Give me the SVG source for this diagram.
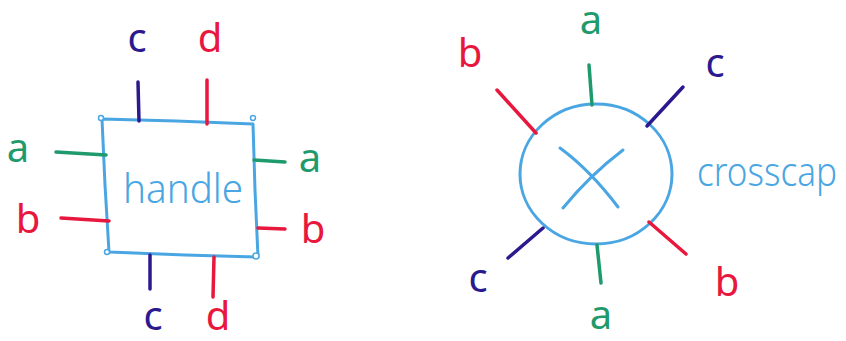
<svg xmlns="http://www.w3.org/2000/svg" width="846" height="341" viewBox="0 0 846 341">
<style>
.bg{fill:#ffffff}
.outline{fill:none;stroke:#4aa6e2;stroke-width:3;stroke-linecap:round;stroke-linejoin:round}
.corner{fill:#ffffff;stroke:#4aa6e2;stroke-width:1.5}
.s{fill:none;stroke-width:3.5;stroke-linecap:round}
.g{stroke:#1f9a6c}.r{stroke:#e8173d}.v{stroke:#2b1a8e}
.lbl{font-family:"Noto Sans","Liberation Sans",sans-serif;font-size:40px;text-anchor:middle}
.tg{fill:#1f9a6c}.tr{fill:#e8173d}.tv{fill:#2b1a8e}
.name{font-family:"Noto Sans","Liberation Sans",sans-serif;font-size:40px;fill:#4aa6e2;font-weight:300}
</style>
<rect class="bg" x="0" y="0" width="846" height="341"/>
<g id="handle">
<path class="outline" d="M102,119 L176,121 L253,124 L255,190 L258,257 L185,255 L109,252 L105,185 Z"/>
<circle class="corner" cx="101" cy="118" r="2.5"/>
<circle class="corner" cx="253" cy="118" r="2.5"/>
<circle class="corner" cx="107" cy="252" r="2.5"/>
<circle class="corner" cx="256" cy="256" r="3"/>
<text class="name" x="123" y="203" textLength="120" lengthAdjust="spacingAndGlyphs">handle</text>
</g>
<g id="crosscap">
<ellipse class="outline" cx="596" cy="174" rx="76" ry="70"/>
<path class="outline" d="M560,148 Q590,170 618,207"/>
<path class="outline" d="M623,150 Q590,175 563,208"/>
<text class="name" x="697" y="186" textLength="140" lengthAdjust="spacingAndGlyphs">crosscap</text>
</g>
<g id="connectors">
<line class="s v" x1="138" y1="82" x2="139" y2="121"/>
<line class="s r" x1="207" y1="80" x2="207" y2="124"/>
<line class="s g" x1="56" y1="152" x2="106" y2="155"/>
<line class="s r" x1="61" y1="218" x2="109" y2="221"/>
<line class="s g" x1="254" y1="160" x2="285" y2="162"/>
<line class="s r" x1="258" y1="228" x2="285" y2="229"/>
<line class="s v" x1="150" y1="255" x2="150" y2="289"/>
<line class="s r" x1="214" y1="257" x2="213" y2="297"/>
<line class="s g" x1="589" y1="65" x2="592" y2="105"/>
<line class="s v" x1="683" y1="87" x2="647" y2="126"/>
<line class="s r" x1="497" y1="90" x2="536" y2="133"/>
<line class="s v" x1="508" y1="258" x2="543" y2="228"/>
<line class="s g" x1="601" y1="283" x2="597" y2="245"/>
<line class="s r" x1="649" y1="222" x2="686" y2="254"/>
</g>
<g id="labels">
<text class="lbl tv" x="137" y="52">c</text>
<text class="lbl tr" x="210" y="52">d</text>
<text class="lbl tg" x="18" y="162">a</text>
<text class="lbl tr" x="28" y="233">b</text>
<text class="lbl tg" x="310" y="172">a</text>
<text class="lbl tr" x="313" y="243">b</text>
<text class="lbl tv" x="153" y="330">c</text>
<text class="lbl tr" x="218" y="330">d</text>
<text class="lbl tg" x="591" y="34">a</text>
<text class="lbl tr" x="470" y="67">b</text>
<text class="lbl tv" x="715" y="77">c</text>
<text class="lbl tv" x="478" y="292">c</text>
<text class="lbl tg" x="601" y="329">a</text>
<text class="lbl tr" x="727" y="296">b</text>
</g>
</svg>
